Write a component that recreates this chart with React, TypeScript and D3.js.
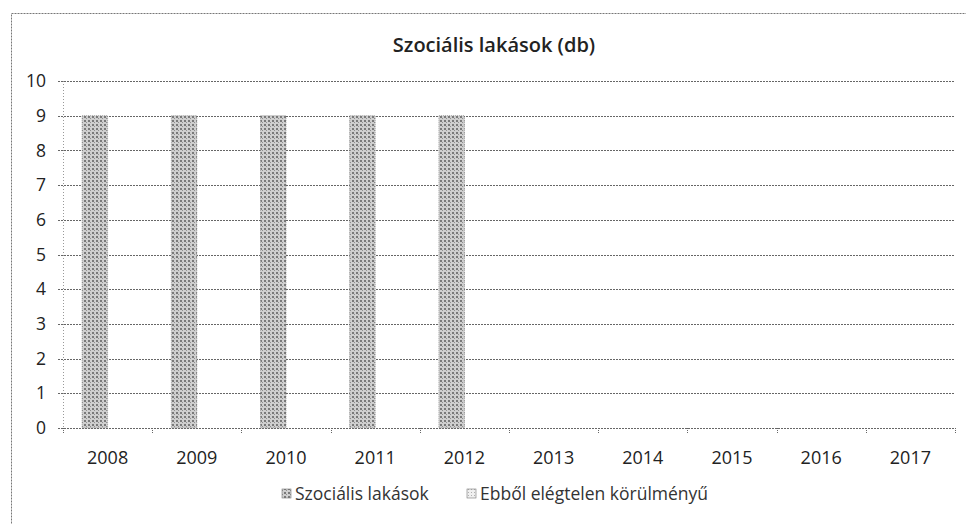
import React from "react";
import * as d3 from "d3";

const years = ["2008", "2009", "2010", "2011", "2012", "2013", "2014", "2015", "2016", "2017"];
const socialFlats = [9, 9, 9, 9, 9, null, null, null, null, null];
const poorCondition = [0, 0, 0, 0, 0, null, null, null, null, null];
const seriesNames = ["Szociális lakások", "Ebből elégtelen körülményű"];
const yTicks = [0, 1, 2, 3, 4, 5, 6, 7, 8, 9, 10];

const W = 966, H = 524;
const margin = { left: 63, right: 11, top: 81, bottom: 96 };
const FONT = "'Open Sans', 'Noto Sans', sans-serif";

const App = () => {
  const ref = React.useRef<SVGSVGElement>(null);

  React.useEffect(() => {
    document.body.style.margin = "0";
    const svg = d3.select(ref.current);
    svg.selectAll("*").remove();

    const defs = svg.append("defs");
    const pat = defs.append("pattern")
      .attr("id", "dots").attr("width", 4).attr("height", 4)
      .attr("patternUnits", "userSpaceOnUse");
    pat.append("rect").attr("width", 4).attr("height", 4).attr("fill", "#cfcfcf");
    pat.append("rect").attr("x", 0).attr("y", 0).attr("width", 2).attr("height", 2).attr("fill", "#7a7a7a");
    pat.append("rect").attr("x", 2).attr("y", 2).attr("width", 1).attr("height", 1).attr("fill", "#909090");
    const pat2 = defs.append("pattern")
      .attr("id", "dots2").attr("width", 3).attr("height", 3)
      .attr("patternUnits", "userSpaceOnUse");
    pat2.append("rect").attr("width", 3).attr("height", 3).attr("fill", "#f0f0f0");
    pat2.append("rect").attr("width", 1).attr("height", 1).attr("fill", "#b0b0b0");

    // outer frame
    svg.append("rect")
      .attr("x", 11.5).attr("y", 13.5).attr("width", W + 20).attr("height", H + 20)
      .attr("fill", "none").attr("stroke", "#777").attr("stroke-width", 1)
      .attr("stroke-dasharray", "2,1");

    const x0 = d3.scaleBand(years, [margin.left, W - margin.right]).paddingInner(0).paddingOuter(0);
    const y = d3.scaleLinear([0, 10], [H - margin.bottom, margin.top]);
    const bw = x0.bandwidth() / 3.5;

    // gridlines
    svg.append("g").selectAll("line").data(yTicks).join("line")
      .attr("x1", margin.left - 5).attr("x2", W - margin.right)
      .attr("y1", d => Math.round(y(d)) + 0.5).attr("y2", d => Math.round(y(d)) + 0.5)
      .attr("stroke", "#666").attr("stroke-width", 1).attr("stroke-dasharray", "2,1");

    // y axis line
    svg.append("line")
      .attr("x1", margin.left + 0.5).attr("x2", margin.left + 0.5)
      .attr("y1", y(10)).attr("y2", y(0))
      .attr("stroke", "#999").attr("stroke-dasharray", "1,2");

    // x ticks
    const bounds = years.map(d => x0(d) as number).concat([W - margin.right]);
    svg.append("g").selectAll("line").data(bounds).join("line")
      .attr("x1", d => Math.round(d) + 0.5).attr("x2", d => Math.round(d) + 0.5)
      .attr("y1", y(0)).attr("y2", y(0) + 6)
      .attr("stroke", "#666").attr("stroke-dasharray", "1,1");

    // bars
    const seriesData = [socialFlats, poorCondition];
    const fills = ["url(#dots)", "url(#dots2)"];
    seriesData.forEach((vals, si) => {
      svg.append("g").selectAll("rect")
        .data(years.map((yr, i) => ({ yr, v: vals[i] })).filter(d => d.v !== null && (d.v as number) > 0))
        .join("rect")
        .attr("x", d => (x0(d.yr) as number) + 0.75 * bw + si * bw)
        .attr("y", d => y(d.v as number))
        .attr("width", bw)
        .attr("height", d => y(0) - y(d.v as number))
        .attr("fill", fills[si])
        .attr("stroke", "#666").attr("stroke-width", 0.6).attr("stroke-dasharray", "1,1");
    });

    // y labels
    svg.append("g").selectAll("text").data(yTicks).join("text")
      .attr("x", 46).attr("y", d => y(d)).attr("dy", "0.35em")
      .attr("text-anchor", "end").attr("font-family", FONT).attr("font-size", 17.5)
      .attr("fill", "#222").text(d => d);

    // x labels
    svg.append("g").selectAll("text").data(years).join("text")
      .attr("x", d => (x0(d) as number) + x0.bandwidth() / 2).attr("y", y(0) + 36)
      .attr("text-anchor", "middle").attr("font-family", FONT).attr("font-size", 18)
      .attr("fill", "#222").text(d => d);

    // title
    svg.append("text")
      .attr("x", 494).attr("y", 52).attr("text-anchor", "middle")
      .attr("font-family", FONT).attr("font-size", 20).attr("font-weight", 600)
      .attr("fill", "#222").text("Szociális lakások (db)");

    // legend
    const legendX = [282, 467];
    const lg = svg.append("g");
    seriesNames.forEach((name, i) => {
      lg.append("rect").attr("x", legendX[i]).attr("y", 489).attr("width", 9).attr("height", 9)
        .attr("fill", fills[i]).attr("stroke", "#777").attr("stroke-width", 0.6);
      lg.append("text").attr("x", legendX[i] + 13).attr("y", 500)
        .attr("font-family", FONT).attr("font-size", 17.5).attr("fill", "#333").text(name);
    });
  }, []);

  return <svg ref={ref} width={W} height={H} style={{ display: "block", background: "#fff" }} />;
};

export default App;
